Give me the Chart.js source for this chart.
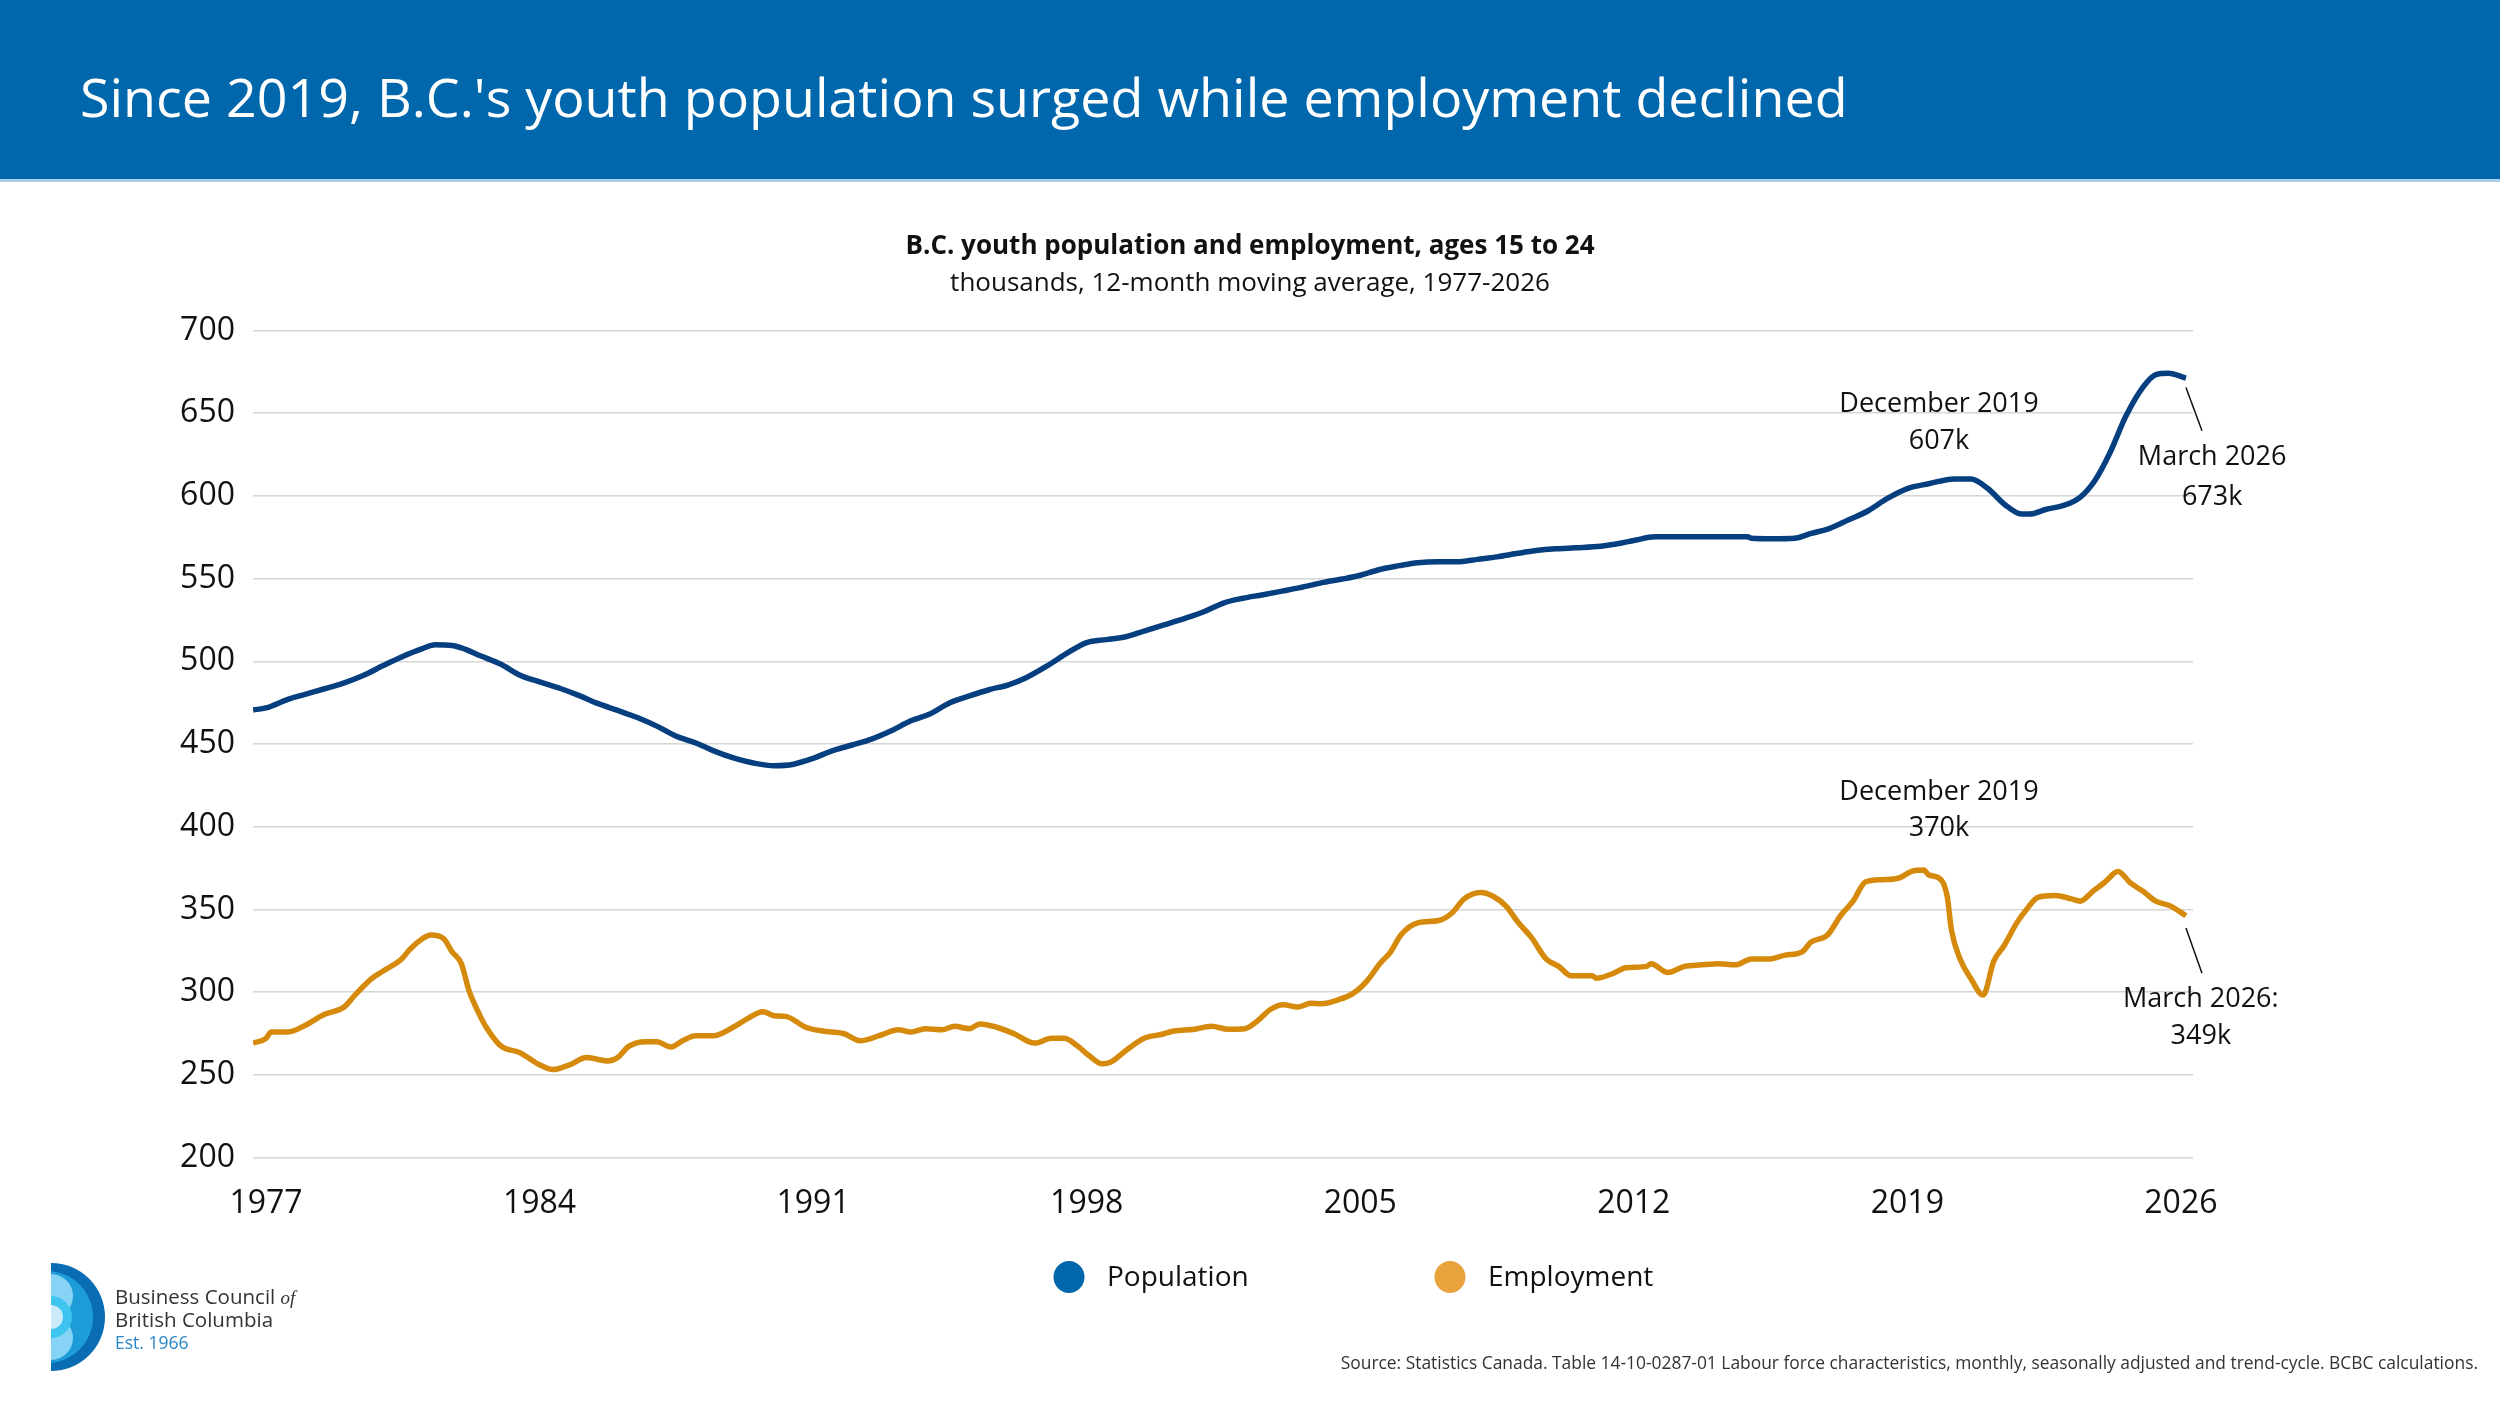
<!DOCTYPE html>
<html>
<head>
<meta charset="utf-8">
<script src="https://cdn.jsdelivr.net/npm/chart.js@4.4.1/dist/chart.umd.min.js"></script>
<style>
  html, body { margin: 0; padding: 0; background: #fff; width: 2500px; height: 1406px; overflow: hidden; }
  body { position: relative; font-family: 'Open Sans', sans-serif; }
  #header { position: absolute; left: 0; top: 0; width: 2500px; height: 179px; background: #0067ac; border-bottom: 3px solid #a9cfea; }
  #header h1 { position: absolute; left: 80px; top: 69px; margin: 0; font-size: 53.8px; line-height: 54px; font-weight: 400; color: #fff; white-space: nowrap; }
  #chartwrap { position: absolute; left: 0; top: 182px; width: 2500px; height: 1224px; }
  #source { position: absolute; right: 22px; top: 1354px; font-size: 17.4px; line-height: 17px; color: #333; white-space: nowrap; }
  #logo { position: absolute; left: 0; top: 1250px; }
</style>
</head>
<body>
<div id="header"><h1>Since 2019, B.C.'s youth population surged while employment declined</h1></div>
<div id="chartwrap"><canvas id="chart" width="2500" height="1224"></canvas></div>
<svg id="logo" width="340" height="140" viewBox="0 0 340 140">
  <defs><clipPath id="half"><rect x="51" y="0" width="80" height="140"/></clipPath></defs>
  <g clip-path="url(#half)">
    <circle cx="51" cy="67" r="54" fill="#0a6cb3"/>
    <circle cx="47" cy="67" r="46" fill="#1e9cd8"/>
    <circle cx="51" cy="46" r="22" fill="#86d3f6"/>
    <circle cx="51" cy="88" r="22" fill="#86d3f6"/>
    <circle cx="51" cy="67" r="21" fill="#3ec5ef"/>
    <circle cx="51" cy="67" r="12" fill="#cbebfa"/>
  </g>
  <text x="115" y="54" font-family="Open Sans" font-size="20.5" fill="#333">Business Council <tspan font-family="Liberation Serif" font-style="italic" font-size="19">of</tspan></text>
  <text x="115" y="77" font-family="Open Sans" font-size="20.5" fill="#333">British Columbia</text>
  <text x="115" y="99" font-family="Open Sans" font-size="17.5" fill="#2b86c8">Est. 1966</text>
</svg>
<div id="source">Source: Statistics Canada. Table 14-10-0287-01 Labour force characteristics, monthly, seasonally adjusted and trend-cycle. BCBC calculations.</div>

<script>
// B.C. youth (15-24), thousands, 12-month moving average
const popYears = [1976.67, 1977.0, 1977.56, 1978.0, 1978.5, 1979.0, 1979.5, 1980.0, 1980.47, 1981.0,
  1981.33, 1981.76, 1982.0, 1982.5, 1983.0, 1983.5, 1984.0, 1984.55, 1985.0, 1985.5,
  1986.0, 1986.5, 1987.0, 1987.47, 1988.0, 1988.44, 1989.0, 1989.5, 1990.0, 1990.5,
  1991.0, 1991.45, 1992.0, 1992.42, 1993.0, 1993.5, 1994.0, 1994.5, 1995.0, 1995.5,
  1996.0, 1996.45, 1997.0, 1997.54, 1998.0, 1998.5, 1999.0, 1999.47, 2000.0, 2000.55,
  2001.0, 2001.5, 2002.0, 2002.48, 2003.0, 2003.46, 2004.0, 2004.54, 2005.0, 2005.5,
  2006.0, 2006.47, 2007.0, 2007.55, 2008.0, 2008.5, 2009.0, 2009.5, 2010.0, 2010.5,
  2011.15, 2011.69, 2012.0, 2012.55, 2013.09, 2014.0, 2014.91, 2015.0, 2015.57, 2016.11,
  2016.54, 2017.0, 2017.5, 2018.0, 2018.48, 2019.0, 2019.55, 2020.2, 2020.63, 2021.06,
  2021.49, 2021.92, 2022.13, 2022.56, 2023.0, 2023.42, 2023.8, 2024.17, 2024.6, 2025.04,
  2025.36, 2025.68, 2026.13];
const popValues = [470.6, 471.8, 477, 480, 483.4, 487, 491.6, 497.4, 502.6, 507.6,
  510, 509.6, 508.1, 503.2, 498.3, 491.6, 487.5, 483.4, 479.4, 474.4,
  470.3, 466, 460.8, 455, 450.6, 446, 441.3, 438.4, 436.9, 437.8,
  441.3, 445.6, 449.4, 452.3, 458, 464, 468.3, 475, 479.1, 482.8,
  485.8, 490.1, 497.4, 505.5, 511.3, 513.1, 514.8, 518.3, 522.1, 526.2,
  529.9, 535.2, 538.1, 540.1, 542.4, 544.5, 547.4, 549.7, 552, 555.5,
  557.8, 559.6, 560.2, 560.2, 561.6, 563.1, 565.1, 566.9, 568, 568.6,
  569.5, 571.5, 573, 575.3, 575.3, 575.3, 575.3, 574.4, 574.1, 574.4,
  577.3, 580.2, 585.5, 591, 598.3, 604.4, 607.3, 610.2, 610.2, 604.4,
  594.8, 589, 589, 591.9, 594.2, 599.1, 609.3, 625.3, 648.5, 666,
  673.3, 674.1, 671.2];

const empYears = [1976.67, 1977.0, 1977.13, 1977.56, 1978.0, 1978.5, 1979.0, 1979.28, 1979.71, 1980.0,
  1980.47, 1980.68, 1981.0, 1981.22, 1981.55, 1981.76, 1982.0, 1982.19, 1982.46, 1982.62,
  1983.0, 1983.5, 1984.0, 1984.34, 1984.77, 1985.2, 1985.75, 1986.0, 1986.28, 1986.71,
  1987.0, 1987.36, 1987.68, 1988.0, 1988.44, 1989.0, 1989.3, 1989.72, 1990.0, 1990.32,
  1990.81, 1991.24, 1991.78, 1992.2, 1992.74, 1993.18, 1993.5, 1993.87, 1994.3, 1994.62,
  1995.0, 1995.27, 1995.7, 1996.13, 1996.67, 1997.1, 1997.43, 1997.75, 1998.08, 1998.4,
  1998.61, 1999.04, 1999.47, 1999.9, 2000.23, 2000.76, 2001.19, 2001.62, 2002.05, 2002.38,
  2002.7, 2003.03, 2003.4, 2003.73, 2004.0, 2004.43, 2004.81, 2005.18, 2005.5, 2005.78,
  2006.04, 2006.47, 2007.01, 2007.34, 2007.66, 2008.09, 2008.41, 2008.73, 2009.05, 2009.38,
  2009.76, 2010.08, 2010.4, 2010.94, 2011.04, 2011.47, 2011.8, 2012.33, 2012.44, 2012.87,
  2013.3, 2013.73, 2014.16, 2014.59, 2015.02, 2015.45, 2015.88, 2016.31, 2016.53, 2016.96,
  2017.29, 2017.61, 2017.93, 2018.36, 2018.79, 2019.11, 2019.43, 2019.54, 2019.86, 2020.02,
  2020.13, 2020.35, 2020.62, 2020.94, 2021.21, 2021.48, 2021.8, 2022.07, 2022.34, 2022.77,
  2023.2, 2023.42, 2023.74, 2024.06, 2024.39, 2024.71, 2025.04, 2025.36, 2025.74, 2026.13];
const empValues = [269.2, 272.1, 275.9, 275.9, 279.9, 286.6, 291, 298.3, 308.4, 312.8,
  320, 325.9, 332.3, 334.6, 332.3, 324.4, 317.2, 301.2, 286.6, 279.4,
  267.7, 263.4, 256.1, 253.2, 256.1, 260.5, 258.4, 260.5, 267.2, 270.1,
  270.1, 266.9, 270.9, 273.6, 273.6, 279.4, 283.7, 288.1, 285.8, 285.2,
  278.8, 276.5, 275, 270.6, 274.1, 277.3, 275.9, 277.9, 277.3, 279.4,
  277.9, 280.8, 278.8, 275, 269.2, 272.1, 272.1, 267.7, 261.3, 256.7,
  257.6, 265.4, 272.1, 274.4, 276.5, 277.6, 279.4, 277.6, 277.9, 282.8,
  289.5, 292.4, 291, 293.3, 293, 295.3, 299.1, 307, 317.2, 324.4,
  334.6, 341.9, 343.3, 347.7, 356.4, 360.2, 357.8, 352, 341.9, 333.1,
  320, 315.6, 309.9, 309.9, 308.4, 311.3, 314.8, 315.6, 317.2, 311.9,
  315.6, 316.5, 317.2, 316.5, 320, 320, 322.4, 324.4, 330.2, 334.6,
  346.2, 355, 366.6, 368, 369, 373, 373.8, 371, 368, 357.8,
  337.5, 320, 308.4, 298.3, 318.6, 328.2, 341.9, 350.6, 357.3, 358.4,
  356.4, 355, 360.8, 366.6, 373, 366, 360.8, 355, 352, 346.2];

const yearTicks = [1977, 1984, 1991, 1998, 2005, 2012, 2019, 2026];

// callouts, anchored in data units
const notes = [
  { lines: ['December 2019', '607k'], x: 2019.81, y: [655.2, 632.7] },
  { lines: ['March 2026', '673k'], x: 2026.8, y: [623, 599.4], leader: [2026.13, 665.5, 2026.54, 639.4] },
  { lines: ['December 2019', '370k'], x: 2019.81, y: [420.6, 398.8] },
  { lines: ['March 2026:', '349k'], x: 2026.51, y: [295.8, 273.3], leader: [2026.13, 338.8, 2026.54, 311.5] }
];

const toPoints = (xs, ys) => xs.map((x, i) => ({ x: x, y: ys[i] }));

const ctx = document.getElementById('chart').getContext('2d');
const chart = new Chart(ctx, {
    type: 'line',
    plugins: [{
        id: 'extras',
        afterDraw: chart => {
            let c = chart.ctx;
            const sx = chart.scales.x, sy = chart.scales.y;
            c.save();
            c.fillStyle = '#111';
            c.font = '27px "Open Sans"';
            c.textAlign = 'center';
            c.textBaseline = 'middle';
            notes.forEach(n => {
                n.lines.forEach((t, i) => c.fillText(t, sx.getPixelForValue(n.x), sy.getPixelForValue(n.y[i])));
                if (n.leader) {
                    c.strokeStyle = '#111';
                    c.lineWidth = 1.5;
                    c.beginPath();
                    c.moveTo(sx.getPixelForValue(n.leader[0]), sy.getPixelForValue(n.leader[1]));
                    c.lineTo(sx.getPixelForValue(n.leader[2]), sy.getPixelForValue(n.leader[3]));
                    c.stroke();
                }
            });
            // legend, dot + label
            c.font = '28px "Open Sans"';
            c.textAlign = 'left';
            const lx = [1069, 1450];
            chart.data.datasets.forEach((ds, i) => {
                c.fillStyle = ds.legendColor;
                c.beginPath();
                c.ellipse(lx[i], 1095, 15.5, 16, 0, 0, Math.PI * 2);
                c.fill();
                c.fillStyle = '#111';
                c.fillText(ds.label, lx[i] + 38, 1096);
            });
            c.restore();
        }
    }],
    data: {
        datasets: [
            {
                label: 'Population',
                data: toPoints(popYears, popValues),
                borderColor: '#063f80',
                legendColor: '#0067ac',
                borderWidth: 5.5,
                pointRadius: 0,
                cubicInterpolationMode: 'monotone'
            },
            {
                label: 'Employment',
                data: toPoints(empYears, empValues),
                borderColor: '#d68a0c',
                legendColor: '#e8a33c',
                borderWidth: 5.5,
                pointRadius: 0,
                cubicInterpolationMode: 'monotone'
            }
        ]
    },
    options: {
        responsive: false,
        animation: false,
        devicePixelRatio: 1,
        layout: { padding: { left: 0, right: 0, top: 0, bottom: 156 } },
        scales: {
            x: {
                type: 'linear',
                min: 1976.667,
                max: 2026.31,
                grid: { display: false, drawTicks: false },
                border: { display: false },
                afterBuildTicks: s => { s.ticks = yearTicks.map(v => ({ value: v })); },
                ticks: {
                    autoSkip: false,
                    maxRotation: 0,
                    padding: 27,
                    color: '#111',
                    font: { family: 'Open Sans', size: 32 },
                    callback: v => String(v)
                }
            },
            y: {
                min: 200,
                max: 700,
                afterFit: s => { s.width = 253; },
                grid: { color: '#d6d6d6', lineWidth: 1.5, drawTicks: false },
                border: { display: false },
                ticks: {
                    stepSize: 50,
                    padding: 18,
                    color: '#111',
                    font: { family: 'Open Sans', size: 32 }
                }
            },
            // empty right-hand spacer so the plot ends where the reference does
            yRight: {
                position: 'right',
                afterFit: s => { s.width = 307; },
                grid: { display: false },
                border: { display: false },
                ticks: { display: false }
            }
        },
        plugins: {
            legend: { display: false },
            tooltip: { enabled: false },
            title: {
                display: true,
                text: 'B.C. youth population and employment, ages 15 to 24',
                color: '#111',
                font: { family: 'Open Sans', size: 26, weight: 'bold' },
                padding: { top: 49, bottom: 3 }
            },
            subtitle: {
                display: true,
                text: 'thousands, 12-month moving average, 1977-2026',
                color: '#111',
                font: { family: 'Open Sans', size: 26 },
                padding: { top: 3, bottom: 31 }
            }
        }
    }
});
</script>
</body>
</html>
